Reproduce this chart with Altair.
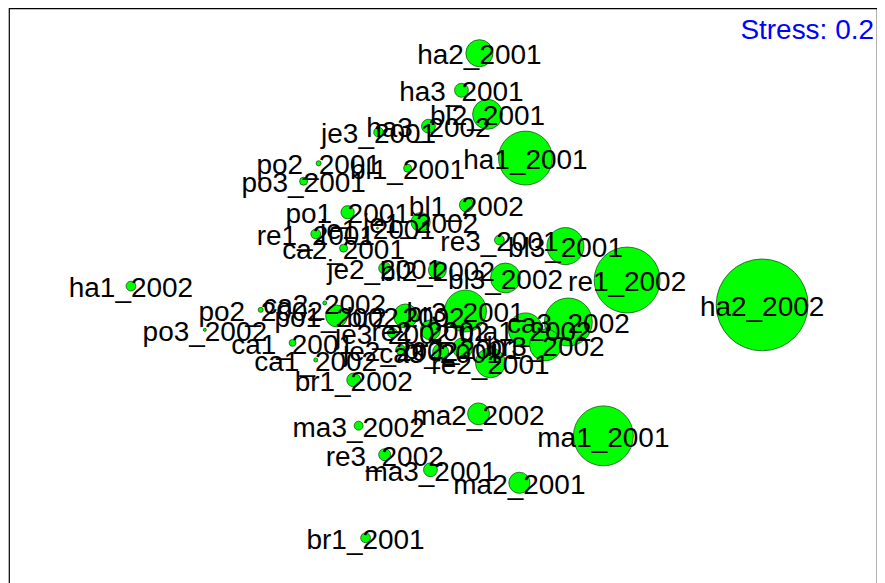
import altair as alt
import pandas as pd

labels = [
    "bl1_2001", "bl2_2001", "bl3_2001", "bl1_2002", "bl2_2002", "bl3_2002",
    "ha1_2001", "ha2_2001", "ha3_2001", "ha1_2002", "ha2_2002", "ha3_2002",
    "po1_2001", "po2_2001", "po3_2001", "po1_2002", "po2_2002", "po3_2002",
    "re1_2001", "re2_2001", "re3_2001", "re1_2002", "re2_2002", "re3_2002",
    "ma1_2001", "ma2_2001", "ma3_2001", "ma1_2002", "ma2_2002", "ma3_2002",
    "je1_2001", "je2_2001", "je3_2001", "je1_2002", "je2_2002", "je3_2002",
    "ca1_2001", "ca2_2001", "ca3_2001", "ca1_2002", "ca2_2002", "ca3_2002",
    "br1_2001", "br2_2001", "br3_2001", "br1_2002", "br2_2002", "br3_2002",
]
nmds1 = [
    -0.124, 0.152, 0.421, 0.079, -0.021, 0.214,
    0.283, 0.124, 0.062, -1.079, 1.100, -0.052,
    -0.331, -0.431, -0.483, -0.369, -0.631, -0.824,
    -0.441, 0.162, 0.193, 0.634, -0.045, -0.203,
    0.552, 0.262, -0.045, 0.283, 0.121, -0.293,
    -0.228, -0.203, -0.224, -0.079, -0.148, -0.176,
    -0.521, -0.345, -0.010, -0.441, -0.410, 0.431,
    -0.269, 0.066, 0.076, -0.310, -0.131, 0.352,
]
nmds2 = [
    0.455, 0.641, 0.186, 0.328, 0.103, 0.076,
    0.490, 0.852, 0.724, 0.048, -0.017, 0.600,
    0.303, 0.472, 0.410, -0.055, -0.034, -0.103,
    0.228, -0.217, 0.207, 0.069, -0.103, -0.534,
    -0.469, -0.631, -0.586, -0.103, -0.393, -0.434,
    0.248, 0.110, 0.579, 0.269, -0.172, -0.114,
    -0.148, 0.179, -0.179, -0.207, -0.010, -0.076,
    -0.821, -0.166, -0.038, -0.276, -0.055, -0.155,
]
abundance = [
    4, 56, 86, 12, 20, 56,
    182, 46, 12, 6, 529, 12,
    11, 1.6, 4, 30, 1.6, 0.6,
    6, 56, 6, 272, 25, 9,
    225, 28, 12, 72, 30, 5,
    0.25, 9, 6, 23, 6, 6,
    3, 4, 16, 1, 1, 144,
    6, 25, 110, 12, 36, 64,
]

df = pd.DataFrame({"label": labels, "NMDS1": nmds1, "NMDS2": nmds2, "abundance": abundance})

W, H = 869, 580
xs = alt.Scale(domain=[-1.5, 1.4966], nice=False, zero=False)
ys = alt.Scale(domain=[-0.9931, 1.0069], nice=False, zero=False)

base = alt.Chart(df).encode(
    x=alt.X("NMDS1:Q", scale=xs, axis=None),
    y=alt.Y("NMDS2:Q", scale=ys, axis=None),
)

circles = base.mark_circle(
    color="#00ff00", opacity=1, stroke="#0b3d0b", strokeWidth=0.7
).encode(
    size=alt.Size("abundance:Q", scale=alt.Scale(domain=[0, 529], range=[0, 8464], zero=True), legend=None)
)

text = base.mark_text(
    font="Liberation Sans", fontSize=28, color="black", align="center", baseline="middle", dy=3
).encode(text="label:N")

stress = alt.Chart(pd.DataFrame({"t": ["Stress: 0.2"]})).mark_text(
    font="Liberation Sans", fontSize=28, color="blue", align="right", baseline="alphabetic"
).encode(text="t:N", x=alt.value(W - 3), y=alt.value(31))

chart = alt.layer(circles, text, stress).properties(
    width=W, height=H, padding={"left": 1, "top": 0, "right": 0, "bottom": 0}
).configure_view(stroke="black", strokeWidth=1.2)

chart.save("out.html", embed_options={"renderer": "svg", "actions": False})
